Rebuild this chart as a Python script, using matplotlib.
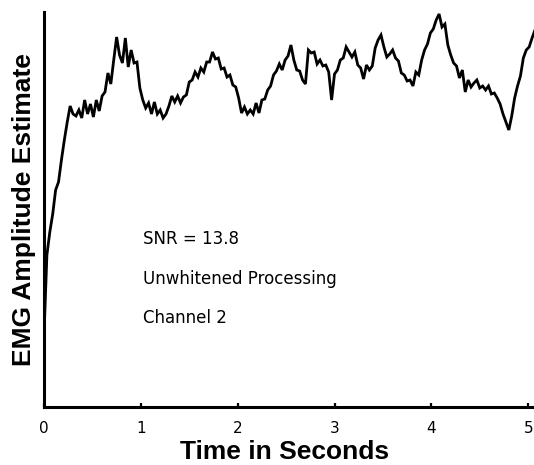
import numpy as np
import matplotlib.pyplot as plt

# EMG amplitude estimate, sampled every 30 ms (arbitrary amplitude units)
dt = 0.03
amplitude = [
    72, 152, 175, 193, 217, 225, 247, 267, 285, 301,
    293, 291, 297, 289, 307, 293, 303, 290, 307, 296,
    311, 315, 334, 323, 347, 370, 352, 344, 369, 340,
    357, 344, 345, 319, 307, 299, 304, 293, 305, 293,
    297, 289, 293, 301, 311, 305, 311, 304, 310, 312,
    325, 327, 335, 330, 339, 335, 345, 345, 355, 348,
    349, 338, 339, 330, 332, 322, 320, 309, 294, 300,
    293, 297, 293, 304, 294, 307, 308, 317, 321, 332,
    336, 343, 337, 347, 351, 362, 347, 337, 336, 327,
    323, 357, 354, 355, 343, 347, 341, 342, 335, 307,
    333, 337, 347, 349, 360, 355, 350, 355, 342, 339,
    328, 342, 337, 341, 359, 367, 372, 360, 350, 353,
    357, 349, 346, 334, 332, 326, 327, 321, 335, 332,
    347, 357, 363, 374, 378, 387, 393, 380, 383, 362,
    352, 344, 341, 329, 337, 315, 327, 320, 324, 327,
    319, 321, 317, 321, 313, 314, 309, 303, 293, 285,
    277, 291, 309, 321, 331, 349, 357, 360, 369, 377,
]
time = np.arange(len(amplitude)) * dt

x_ticks = [0, 1, 2, 3, 4, 5]
notes = ["SNR = 13.8", "Unwhitened Processing", "Channel 2"]
note_levels = [163, 123, 84]

fig = plt.figure(figsize=(5.34, 4.65), dpi=100)
ax = fig.add_axes([44 / 534, 58 / 465, 490 / 534, 395 / 465])

ax.plot(time, amplitude, color="black", lw=2.0, solid_joinstyle="miter")

ax.set_xlim(0, 5.06)
ax.set_ylim(0, 395)
ax.set_xticks(x_ticks)
ax.set_yticks([])
ax.tick_params(axis="x", direction="in", length=3, width=1.6, pad=10,
               labelsize=11)
for lbl in ax.get_xticklabels():
    lbl.set_family("DejaVu Sans")

for side in ("top", "right"):
    ax.spines[side].set_visible(False)
for side in ("left", "bottom"):
    ax.spines[side].set_linewidth(2.2)

label_font = dict(family="Liberation Sans", fontweight="bold", fontsize=19)
ax.set_xlabel("Time in Seconds", va="center", **label_font)
ax.xaxis.set_label_coords(241 / 490, -45 / 395)
ax.set_ylabel("EMG Amplitude Estimate", va="center", **label_font)
ax.yaxis.set_label_coords(-20 / 490, 0.5)

for txt, lev in zip(notes, note_levels):
    ax.text(1.02, lev, txt, family="DejaVu Sans", fontsize=12,
            va="baseline", ha="left")

fig.savefig("out.png", dpi=100)
